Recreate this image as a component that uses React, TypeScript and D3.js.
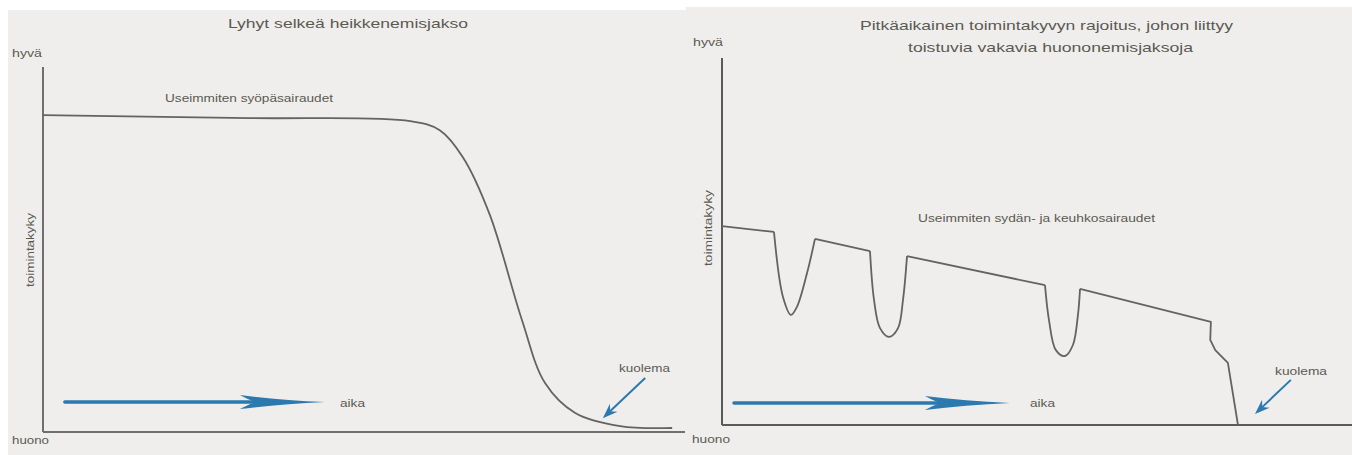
import React from "react";
import * as d3 from "d3";

// ---------- data ----------
// Left panel: short clear decline (time 0..100, function 0..100)
const leftT = [0, 32.2, 57.2, 61.8, 65.4, 69.6, 74.6, 78.2, 82.9, 89.9, 98.0];
const leftV = [86.8, 86.0, 85.2, 82.7, 75.3, 59.5, 30.7, 13.4, 5.2, 1.6, 1.1];

// Right panel: long-term limitation with repeated severe deteriorations
const rightT = [0, 8.25, 9.68, 10.95, 11.9, 13.5, 14.76, 23.49, 24.13, 25.08, 26.51, 27.94, 28.73, 29.37,
  51.27, 51.9, 53.0, 54.44, 55.7, 56.5, 56.83, 77.6, 77.5, 78.3, 80.3, 81.9];
const rightV = [54.2, 52.6, 34.9, 30.0, 32.2, 41.4, 50.7, 47.4, 34.1, 26.4, 24.0, 26.4, 34.1, 46.0,
  38.1, 28.6, 20.4, 18.8, 21.8, 30.0, 37.1, 28.1, 23.2, 20.4, 16.9, 0];
// index ranges [from, to] drawn as smooth dips; the rest are straight runs
const rightDips = [[1, 6], [7, 13], [14, 20]];

// arrows: [t0, v0, t1, v1]
const leftTimeArrow = [3.4, 8.2, 43.9, 8.2];
const rightTimeArrow = [1.9, 6.0, 45.7, 6.0];
const leftDeathArrow = [93.8, 14.8, 87.2, 3.8];
const rightDeathArrow = [90.3, 12.3, 84.6, 3.0];

const titles = ["Lyhyt selkeä heikkenemisjakso", "Pitkäaikainen toimintakyvyn rajoitus, johon liittyy", "toistuvia vakavia huononemisjaksoja"];
const notes = ["Useimmiten syöpäsairaudet", "Useimmiten sydän- ja keuhkosairaudet"];

// ---------- layout ----------
const W = 1352, H = 455;
const xL = d3.scaleLinear().domain([0, 100]).range([43, 685]);
const yL = d3.scaleLinear().domain([0, 100]).range([432, 67]);
const xR = d3.scaleLinear().domain([0, 100]).range([722, 1352]);
const yR = d3.scaleLinear().domain([0, 100]).range([425, 58]);

const BG = "#efeeec";
const TXT = "#5b5a52";
const AX = "#6f6f6f";
const LINE = "#636363";
const BLUE = "#2b79ae";
const FONT = "'Liberation Sans', Arial, sans-serif";

function fatArrow(x0: number, y0: number, x1: number, y1: number) {
  const headLen = 85, half = 7, notch = 68;
  const ang = Math.atan2(y1 - y0, x1 - x0);
  const ux = Math.cos(ang), uy = Math.sin(ang);
  const px = -uy, py = ux;
  const bx = x1 - ux * headLen, by = y1 - uy * headLen;
  const nx = x1 - ux * notch, ny = y1 - uy * notch;
  const lineEnd = [nx + ux * 2, ny + uy * 2];
  const head = `M${x1},${y1} Q${bx + ux * 40 + px * 2},${by + uy * 40 + py * 2} ${bx + px * half},${by + py * half} Q${nx - ux * 4},${ny - uy * 4} ${nx},${ny} Q${nx - ux * 4},${ny - uy * 4} ${bx - px * half},${by - py * half} Q${bx + ux * 40 - px * 2},${by + uy * 40 - py * 2} ${x1},${y1} Z`;
  return { line: [x0, y0, lineEnd[0], lineEnd[1]], head };
}

function smallArrow(x0: number, y0: number, x1: number, y1: number) {
  const headLen = 15, half = 5.5, notch = 10;
  const ang = Math.atan2(y1 - y0, x1 - x0);
  const ux = Math.cos(ang), uy = Math.sin(ang);
  const px = -uy, py = ux;
  const bx = x1 - ux * headLen, by = y1 - uy * headLen;
  const nx = x1 - ux * notch, ny = y1 - uy * notch;
  const head = `M${x1},${y1} L${bx + px * half},${by + py * half} L${nx},${ny} L${bx - px * half},${by - py * half} Z`;
  return { line: [x0, y0, nx, ny], head };
}

export default function App() {
  const leftPts: [number, number][] = leftT.map((t, i) => [xL(t), yL(leftV[i])]);
  const leftPath = d3.line().curve(d3.curveCatmullRom.alpha(0.5))(leftPts) || "";

  const rPts: [number, number][] = rightT.map((t, i) => [xR(t), yR(rightV[i])]);
  const smooth = d3.line().curve(d3.curveCatmullRom.alpha(0.5));
  const straight = d3.line();
  const segs: string[] = [];
  let cursor = 0;
  rightDips.forEach(([a, b]) => {
    if (a > cursor) segs.push(straight(rPts.slice(cursor, a + 1)) || "");
    segs.push(smooth(rPts.slice(a, b + 1)) || "");
    cursor = b;
  });
  segs.push(straight(rPts.slice(cursor)) || "");

  const la = fatArrow(xL(leftTimeArrow[0]), yL(leftTimeArrow[1]), xL(leftTimeArrow[2]), yL(leftTimeArrow[3]));
  const ra = fatArrow(xR(rightTimeArrow[0]), yR(rightTimeArrow[1]), xR(rightTimeArrow[2]), yR(rightTimeArrow[3]));
  const ld = smallArrow(xL(leftDeathArrow[0]), yL(leftDeathArrow[1]), xL(leftDeathArrow[2]), yL(leftDeathArrow[3]));
  const rd = smallArrow(xR(rightDeathArrow[0]), yR(rightDeathArrow[1]), xR(rightDeathArrow[2]), yR(rightDeathArrow[3]));

  const T = (props: any) => (
    <text fontFamily={FONT} fill={TXT} lengthAdjust="spacingAndGlyphs" {...props} />
  );

  return (
    <div style={{ position: "absolute", left: 0, top: 0 }}>
      <svg width={W} height={H} style={{ display: "block" }}>
        <rect x={0} y={0} width={W} height={H} fill="#ffffff" />
        <rect x={8} y={10} width={678} height={H - 10} fill={BG} />
        <rect x={686} y={7} width={W - 686} height={H - 7} fill={BG} />

        {/* left panel */}
        <T x={228} y={28} fontSize={13.5} textLength={240}>{titles[0]}</T>
        <T x={12} y={57} fontSize={10} textLength={30}>hyvä</T>
        <T x={12} y={444} fontSize={10} textLength={37}>huono</T>
        <T x={165} y={102} fontSize={11} textLength={168}>{notes[0]}</T>
        <T transform={`translate(34,250) rotate(-90)`} textAnchor="middle" fontSize={10} textLength={74}>toimintakyky</T>
        <line x1={xL(0)} y1={yL(100)} x2={xL(0)} y2={yL(0)} stroke={AX} strokeWidth={2} />
        <line x1={xL(0)} y1={yL(0)} x2={xL(100)} y2={yL(0)} stroke={AX} strokeWidth={2} />
        <path d={leftPath} fill="none" stroke={LINE} strokeWidth={1.8} />
        <line x1={la.line[0]} y1={la.line[1]} x2={la.line[2]} y2={la.line[3]} stroke={BLUE} strokeWidth={3.4} strokeLinecap="round" />
        <path d={la.head} fill={BLUE} />
        <T x={340} y={407} fontSize={10.5} textLength={25}>aika</T>
        <T x={619} y={372} fontSize={10.5} textLength={51}>kuolema</T>
        <line x1={ld.line[0]} y1={ld.line[1]} x2={ld.line[2]} y2={ld.line[3]} stroke={BLUE} strokeWidth={2} />
        <path d={ld.head} fill={BLUE} />

        {/* right panel */}
        <T x={860} y={30} fontSize={13.5} textLength={373}>{titles[1]}</T>
        <T x={908} y={52} fontSize={13.5} textLength={285}>{titles[2]}</T>
        <T x={693} y={46} fontSize={10} textLength={30}>hyvä</T>
        <T x={692} y={443} fontSize={10} textLength={38}>huono</T>
        <T x={918} y={222} fontSize={11} textLength={237}>{notes[1]}</T>
        <T transform={`translate(712,228) rotate(-90)`} textAnchor="middle" fontSize={10} textLength={76}>toimintakyky</T>
        <line x1={xR(0)} y1={yR(100)} x2={xR(0)} y2={yR(0)} stroke="#5a5a5a" strokeWidth={2} />
        <line x1={xR(0)} y1={yR(0)} x2={xR(100)} y2={yR(0)} stroke="#5a5a5a" strokeWidth={2} />
        {segs.map((d, i) => (
          <path key={i} d={d} fill="none" stroke={LINE} strokeWidth={1.8} strokeLinejoin="round" />
        ))}
        <line x1={ra.line[0]} y1={ra.line[1]} x2={ra.line[2]} y2={ra.line[3]} stroke={BLUE} strokeWidth={3.4} strokeLinecap="round" />
        <path d={ra.head} fill={BLUE} />
        <T x={1030} y={407} fontSize={10.5} textLength={25}>aika</T>
        <T x={1275} y={375} fontSize={10.5} textLength={52}>kuolema</T>
        <line x1={rd.line[0]} y1={rd.line[1]} x2={rd.line[2]} y2={rd.line[3]} stroke={BLUE} strokeWidth={2} />
        <path d={rd.head} fill={BLUE} />
      </svg>
    </div>
  );
}
